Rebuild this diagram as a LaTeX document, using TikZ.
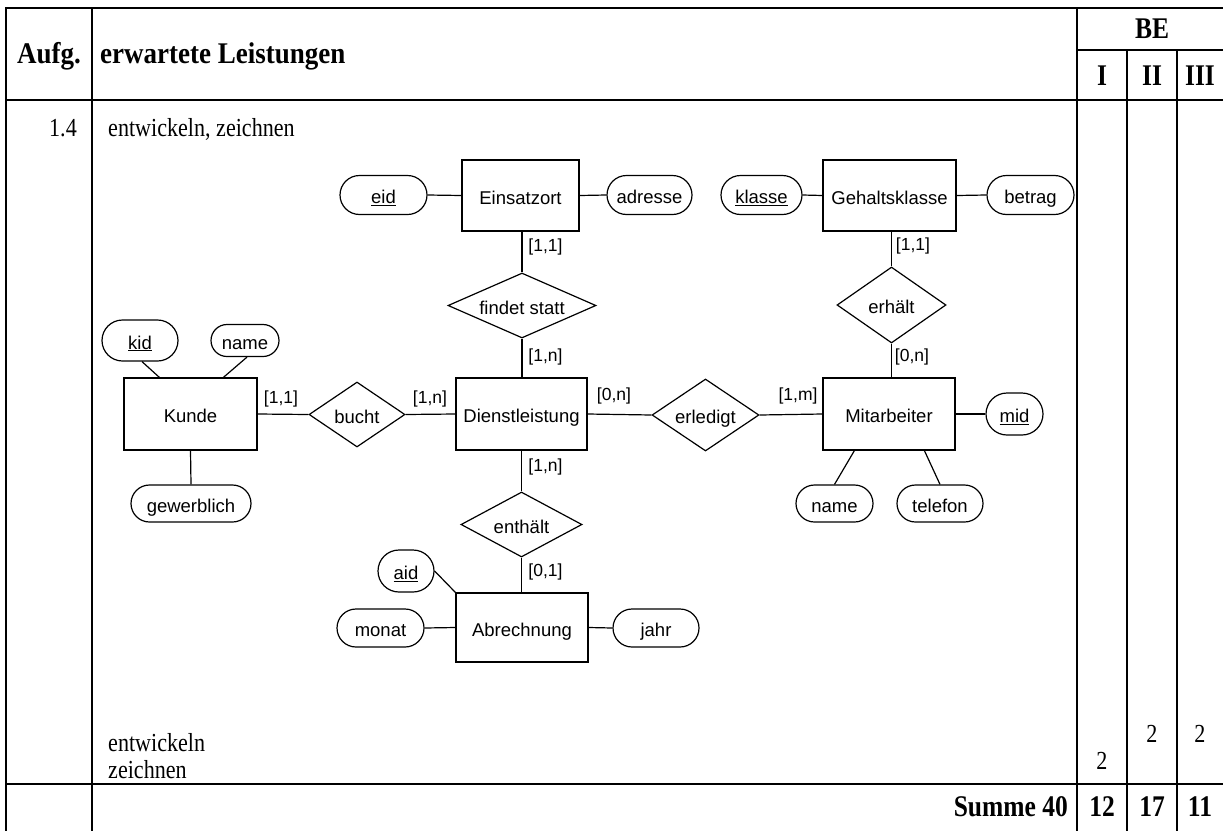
\documentclass[tikz,border=0pt]{standalone}
\usepackage{fontspec}
\setmainfont{Liberation Serif}
\newfontfamily\tsr[FakeStretch=0.85]{Liberation Serif}
\newfontfamily\tsh[FakeStretch=0.9]{Liberation Serif}
\newfontfamily\ersf{Liberation Sans}
\usetikzlibrary{shapes.geometric,shapes.misc}
\tikzset{
  tl/.style={line width=2pt, line cap=rect},
  tk/.style={line width=2.6pt, line cap=rect},
  erfont/.style={font=\ersf\fontsize{18.5}{22}\selectfont, text height=18pt, text depth=1pt},
  ent/.style={draw, line width=1.2pt, rectangle, inner sep=0pt, erfont},
  rel/.style={draw, line width=1.2pt, diamond, inner sep=0pt,
    label={[erfont, inner sep=0pt]center:#1}},
  attr/.style={draw, line width=1.2pt, rounded rectangle, inner sep=0pt, erfont},
  card/.style={inner sep=0pt, font=\ersf\fontsize{17.5}{21}\selectfont},
  conn/.style={line width=1.2pt},
  body/.style={inner sep=0pt, font=\tsr\fontsize{26}{30}\selectfont},
  head/.style={inner sep=0pt, font=\tsh\bfseries\fontsize{30}{34}\selectfont},
  bold/.style={inner sep=0pt, font=\tsr\bfseries\fontsize{30}{34}\selectfont}
}
\begin{document}
\begin{tikzpicture}[x=1pt,y=-1pt]
\useasboundingbox (0,0) rectangle (1223,830);
% table grid
\draw[tl] (6,8) -- (1223,8);
\draw[tl] (6,8) -- (6,830);
\draw[tl] (92,8) -- (92,830);
\draw[tl] (1077,8) -- (1077,830);
\draw[tl] (1077,50) -- (1223,50);
\draw[tl] (1127,50) -- (1127,830);
\draw[tl] (1177,50) -- (1177,830);
\draw[tk] (6,100) -- (1223,100);
\draw[tk] (6,784) -- (1223,784);
% header texts
\node[head, anchor=base] (haufg) at (49,63) {Aufg.};
\node[head, anchor=base west] (hleist) at (100,63) {erwartete Leistungen};
\node[bold, anchor=base] (hbe) at (1152,38) {BE};
\node[bold, anchor=base] (hi) at (1102,85) {I};
\node[bold, anchor=base] (hii) at (1152,85) {II};
\node[bold, anchor=base] (hiii) at (1200,85) {III};
% body texts
\node[body, anchor=base] (nr) at (63,136) {1.4};
\node[body, anchor=base west] (op) at (108,136) {entwickeln, zeichnen};
\node[body, anchor=base west] (op1) at (108,751) {entwickeln};
\node[body, anchor=base west] (op2) at (108,778) {zeichnen};
\node[body, anchor=base] (p1) at (1102,769) {2};
\node[body, anchor=base] (p2) at (1152,742) {2};
\node[body, anchor=base] (p3) at (1200,742) {2};
\node[bold, anchor=base east] (sum) at (1068,816) {Summe 40};
\node[bold, anchor=base] (s1) at (1102,816) {12};
\node[bold, anchor=base] (s2) at (1152,816) {17};
\node[bold, anchor=base] (s3) at (1200,816) {11};
% ER diagram
\node[ent, minimum width=117pt, minimum height=71pt] (eins) at (520.5,195.5) {Einsatzort};
\node[attr, minimum width=87pt, minimum height=39pt] (eid) at (383.5,195) {\underline{eid}};
\node[attr, minimum width=85pt, minimum height=39pt] (adr) at (649.5,195) {adresse};
\node[ent, minimum width=133pt, minimum height=71pt] (geh) at (889.5,195.5) {Gehaltsklasse};
\node[attr, minimum width=81pt, minimum height=39pt] (kla) at (761.5,195) {\underline{klasse}};
\node[attr, minimum width=87pt, minimum height=39pt] (bet) at (1030.5,195) {betrag};
\node[rel=findet statt, minimum width=148pt, minimum height=65pt] (fin) at (522,305.5) {};
\node[rel=erhält, minimum width=109pt, minimum height=76pt] (erh) at (891.5,305) {};
\node[ent, minimum width=133pt, minimum height=72pt] (kun) at (190.5,414) {Kunde};
\node[attr, minimum width=76pt, minimum height=41pt] (kid) at (140,340.5) {\underline{kid}};
\node[attr, minimum width=68pt, minimum height=32pt] (kna) at (245,340.5) {name};
\node[attr, minimum width=120pt, minimum height=37pt] (gew) at (191,503.5) {gewerblich};
\node[rel=bucht, minimum width=96pt, minimum height=65pt] (bu) at (357,414.5) {};
\node[ent, minimum width=131pt, minimum height=72pt] (dl) at (521.5,414) {Dienstleistung};
\node[rel=erledigt, minimum width=107pt, minimum height=72pt] (erl) at (705.5,415) {};
\node[ent, minimum width=132pt, minimum height=72pt] (mit) at (889,414) {Mitarbeiter};
\node[attr, minimum width=57pt, minimum height=42pt] (mid) at (1014.5,414) {\underline{mid}};
\node[attr, minimum width=77pt, minimum height=37pt] (mna) at (834.5,503.5) {name};
\node[attr, minimum width=86pt, minimum height=37pt] (tel) at (940,503.5) {telefon};
\node[rel=enthält, minimum width=121pt, minimum height=65pt] (enth) at (521.5,524.5) {};
\node[ent, minimum width=132pt, minimum height=69pt] (abr) at (522,627.5) {Abrechnung};
\node[attr, minimum width=56pt, minimum height=42pt] (aid) at (406,571) {\underline{aid}};
\node[attr, minimum width=87pt, minimum height=38pt] (mon) at (380.5,628) {monat};
\node[attr, minimum width=86pt, minimum height=38pt] (jahr) at (656,628) {jahr};
% connectors
\draw[conn] (eid.east) -- (eins.west);
\draw[conn] (eins.east) -- (adr.west);
\draw[conn] (kla.east) -- (geh.west);
\draw[conn] (geh.east) -- (bet.west);
\draw[conn] (fin.north |- eins.south) -- (fin.north);
\draw[conn] (fin.south) -- (fin.south |- dl.north);
\draw[conn] (erh.north |- geh.south) -- (erh.north);
\draw[conn] (erh.south) -- (erh.south |- mit.north);
\draw[conn] (kun.east) -- (bu.west);
\draw[conn] (bu.east) -- (dl.west);
\draw[conn] (dl.east) -- (erl.west);
\draw[conn] (erl.east) -- (mit.west);
\draw[conn] (mit.east) -- (mid.west);
\draw[conn] (kun.south) -- (gew.north);
\draw[conn] ([xshift=2pt]kid.south) -- ([xshift=36pt]kun.north west);
\draw[conn] ([xshift=2pt]kna.south) -- ([xshift=100pt]kun.north west);
\draw[conn] (mna.north) -- ([xshift=32pt]mit.south west);
\draw[conn] (tel.north) -- ([xshift=102pt]mit.south west);
\draw[conn] (enth.north |- dl.south) -- (enth.north);
\draw[conn] (enth.south) -- (enth.south |- abr.north);
\draw[conn] (aid.east) -- (abr.north west);
\draw[conn] (mon.east) -- (abr.west);
\draw[conn] (abr.east) -- (jahr.west);
% cardinalities
\node[card] (c1) at (545.5,247) {[1,1]};
\node[card] (c2) at (545.5,357) {[1,n]};
\node[card] (c3) at (913,246) {[1,1]};
\node[card] (c4) at (912,357) {[0,n]};
\node[card] (c5) at (281,399) {[1,1]};
\node[card] (c6) at (430,399) {[1,n]};
\node[card] (c7) at (614,396) {[0,n]};
\node[card] (c8) at (798,396) {[1,m]};
\node[card] (c9) at (545.5,467) {[1,n]};
\node[card] (c10) at (545.5,572) {[0,1]};
\end{tikzpicture}
\end{document}
